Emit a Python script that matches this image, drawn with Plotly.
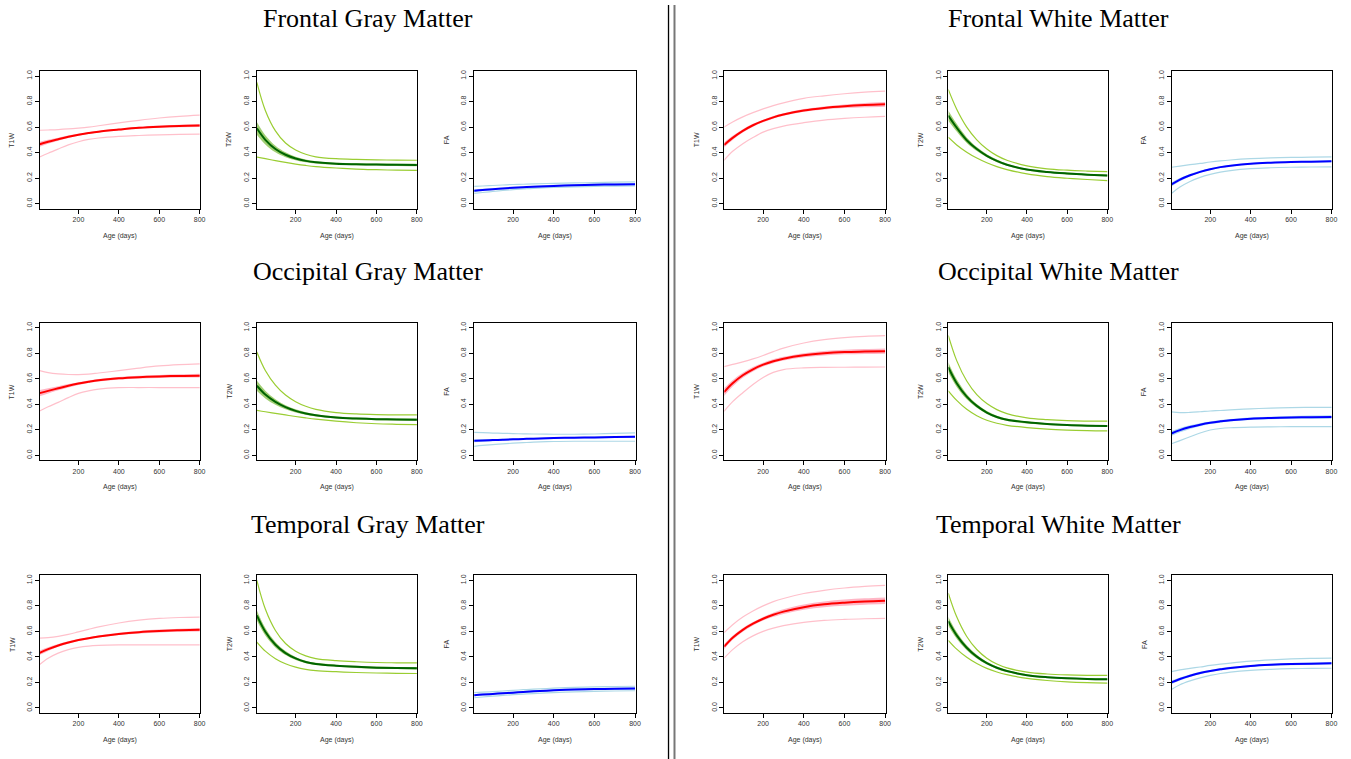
import plotly.graph_objects as go

# ---------------- data ----------------
ages = [8, 50, 100, 150, 200, 250, 300, 400, 500, 600, 700, 800]
x_ticks = [200, 400, 600, 800]
y_ticks = [0.0, 0.2, 0.4, 0.6, 0.8, 1.0]
y_tick_text = ["0.0", "0.2", "0.4", "0.6", "0.8", "1.0"]
measures = ["T1W", "T2W", "FA"]
x_label = "Age (days)"
regions_left = ["Frontal Gray Matter", "Occipital Gray Matter", "Temporal Gray Matter"]
regions_right = ["Frontal White Matter", "Occipital White Matter", "Temporal White Matter"]

# Frontal gray matter
fgm_t1w_mid = [0.465, 0.485, 0.505, 0.524, 0.54, 0.553, 0.564, 0.58, 0.594, 0.603, 0.609, 0.612]
fgm_t1w_hi = [0.575, 0.577, 0.58, 0.585, 0.592, 0.60, 0.61, 0.632, 0.653, 0.671, 0.684, 0.693]
fgm_t1w_lo = [0.365, 0.395, 0.428, 0.46, 0.485, 0.503, 0.514, 0.527, 0.534, 0.539, 0.542, 0.544]
fgm_t1w_ci = [0.02, 0.015, 0.012, 0.01, 0.008, 0.007, 0.007, 0.007, 0.008, 0.009, 0.01, 0.012]
fgm_t2w_mid = [0.59, 0.50, 0.428, 0.383, 0.354, 0.335, 0.324, 0.312, 0.308, 0.306, 0.304, 0.303]
fgm_t2w_hi = [0.95, 0.73, 0.57, 0.475, 0.42, 0.387, 0.367, 0.352, 0.346, 0.343, 0.341, 0.34]
fgm_t2w_lo = [0.365, 0.352, 0.337, 0.323, 0.31, 0.299, 0.29, 0.279, 0.271, 0.266, 0.262, 0.26]
fgm_t2w_ci = [0.05, 0.036, 0.026, 0.019, 0.014, 0.011, 0.009, 0.008, 0.008, 0.008, 0.009, 0.01]
fgm_fa_mid = [0.10, 0.107, 0.113, 0.119, 0.124, 0.128, 0.132, 0.139, 0.144, 0.148, 0.15, 0.152]
fgm_fa_hi = [0.135, 0.138, 0.142, 0.146, 0.15, 0.152, 0.155, 0.159, 0.162, 0.165, 0.168, 0.17]
fgm_fa_lo = [0.08, 0.087, 0.095, 0.103, 0.11, 0.115, 0.12, 0.127, 0.132, 0.135, 0.137, 0.138]
fgm_fa_ci = [0.01, 0.009, 0.008, 0.008, 0.008, 0.008, 0.008, 0.008, 0.008, 0.009, 0.009, 0.01]

# Frontal white matter
fwm_t1w_mid = [0.46, 0.515, 0.57, 0.614, 0.648, 0.676, 0.698, 0.73, 0.75, 0.763, 0.772, 0.778]
fwm_t1w_hi = [0.60, 0.64, 0.68, 0.713, 0.742, 0.768, 0.79, 0.825, 0.845, 0.861, 0.873, 0.881]
fwm_t1w_lo = [0.34, 0.41, 0.47, 0.518, 0.56, 0.588, 0.608, 0.634, 0.655, 0.668, 0.677, 0.683]
fwm_t1w_ci = [0.02, 0.016, 0.013, 0.011, 0.01, 0.01, 0.01, 0.011, 0.012, 0.014, 0.016, 0.018]
fwm_t2w_mid = [0.69, 0.595, 0.497, 0.428, 0.375, 0.335, 0.305, 0.267, 0.248, 0.236, 0.227, 0.22]
fwm_t2w_hi = [0.895, 0.74, 0.60, 0.50, 0.428, 0.376, 0.34, 0.296, 0.273, 0.262, 0.255, 0.25]
fwm_t2w_lo = [0.52, 0.46, 0.403, 0.357, 0.32, 0.29, 0.267, 0.233, 0.212, 0.199, 0.189, 0.181]
fwm_t2w_ci = [0.04, 0.03, 0.022, 0.016, 0.012, 0.01, 0.008, 0.007, 0.007, 0.007, 0.007, 0.008]
fwm_fa_mid = [0.15, 0.188, 0.222, 0.249, 0.27, 0.286, 0.297, 0.313, 0.321, 0.326, 0.329, 0.332]
fwm_fa_hi = [0.285, 0.294, 0.305, 0.315, 0.326, 0.335, 0.342, 0.352, 0.358, 0.362, 0.364, 0.366]
fwm_fa_lo = [0.08, 0.13, 0.174, 0.206, 0.229, 0.247, 0.259, 0.274, 0.281, 0.285, 0.287, 0.288]
fwm_fa_ci = [0.015, 0.012, 0.01, 0.008, 0.007, 0.006, 0.006, 0.006, 0.006, 0.006, 0.006, 0.007]

# Occipital gray matter
ogm_t1w_mid = [0.487, 0.505, 0.525, 0.545, 0.562, 0.576, 0.588, 0.603, 0.612, 0.618, 0.622, 0.624]
ogm_t1w_hi = [0.663, 0.648, 0.638, 0.633, 0.632, 0.636, 0.645, 0.663, 0.683, 0.70, 0.71, 0.716]
ogm_t1w_lo = [0.347, 0.38, 0.415, 0.452, 0.485, 0.505, 0.518, 0.53, 0.531, 0.531, 0.53, 0.53]
ogm_t1w_ci = [0.025, 0.02, 0.016, 0.013, 0.011, 0.01, 0.01, 0.01, 0.011, 0.012, 0.013, 0.015]
ogm_t2w_mid = [0.545, 0.476, 0.418, 0.377, 0.348, 0.328, 0.313, 0.296, 0.288, 0.283, 0.281, 0.279]
ogm_t2w_hi = [0.81, 0.665, 0.55, 0.472, 0.42, 0.384, 0.36, 0.335, 0.324, 0.319, 0.317, 0.316]
ogm_t2w_lo = [0.353, 0.341, 0.328, 0.316, 0.304, 0.293, 0.283, 0.267, 0.255, 0.247, 0.243, 0.24]
ogm_t2w_ci = [0.04, 0.03, 0.022, 0.016, 0.012, 0.01, 0.009, 0.008, 0.008, 0.008, 0.008, 0.009]
ogm_fa_mid = [0.113, 0.116, 0.119, 0.122, 0.125, 0.128, 0.13, 0.135, 0.138, 0.14, 0.143, 0.145]
ogm_fa_hi = [0.18, 0.177, 0.174, 0.172, 0.17, 0.168, 0.167, 0.165, 0.165, 0.167, 0.171, 0.175]
ogm_fa_lo = [0.07, 0.077, 0.084, 0.09, 0.095, 0.099, 0.103, 0.108, 0.11, 0.11, 0.11, 0.11]
ogm_fa_ci = [0.01, 0.009, 0.008, 0.007, 0.007, 0.007, 0.007, 0.007, 0.007, 0.008, 0.008, 0.009]

# Occipital white matter
owm_t1w_mid = [0.495, 0.564, 0.627, 0.674, 0.71, 0.737, 0.757, 0.784, 0.80, 0.809, 0.813, 0.816]
owm_t1w_hi = [0.695, 0.712, 0.732, 0.755, 0.782, 0.812, 0.84, 0.88, 0.906, 0.922, 0.932, 0.937]
owm_t1w_lo = [0.345, 0.42, 0.49, 0.555, 0.61, 0.65, 0.672, 0.685, 0.689, 0.69, 0.691, 0.692]
owm_t1w_ci = [0.03, 0.025, 0.02, 0.017, 0.015, 0.015, 0.015, 0.016, 0.017, 0.018, 0.019, 0.02]
owm_t2w_mid = [0.69, 0.565, 0.46, 0.387, 0.335, 0.30, 0.279, 0.258, 0.245, 0.237, 0.232, 0.229]
owm_t2w_hi = [0.94, 0.742, 0.582, 0.475, 0.405, 0.358, 0.327, 0.293, 0.279, 0.271, 0.268, 0.267]
owm_t2w_lo = [0.505, 0.43, 0.36, 0.31, 0.275, 0.251, 0.235, 0.217, 0.205, 0.198, 0.194, 0.192]
owm_t2w_ci = [0.04, 0.03, 0.021, 0.015, 0.012, 0.01, 0.009, 0.008, 0.007, 0.007, 0.007, 0.008]
owm_fa_mid = [0.171, 0.197, 0.221, 0.24, 0.255, 0.266, 0.275, 0.287, 0.293, 0.297, 0.299, 0.30]
owm_fa_hi = [0.34, 0.334, 0.336, 0.341, 0.347, 0.351, 0.356, 0.364, 0.37, 0.374, 0.375, 0.376]
owm_fa_lo = [0.09, 0.115, 0.145, 0.175, 0.198, 0.21, 0.216, 0.221, 0.223, 0.224, 0.224, 0.224]
owm_fa_ci = [0.02, 0.017, 0.014, 0.012, 0.01, 0.01, 0.01, 0.01, 0.01, 0.011, 0.012, 0.013]

# Temporal gray matter
tgm_t1w_mid = [0.432, 0.461, 0.49, 0.513, 0.532, 0.547, 0.56, 0.58, 0.594, 0.603, 0.609, 0.613]
tgm_t1w_hi = [0.547, 0.551, 0.561, 0.576, 0.596, 0.616, 0.635, 0.666, 0.688, 0.702, 0.709, 0.712]
tgm_t1w_lo = [0.34, 0.39, 0.43, 0.457, 0.475, 0.485, 0.49, 0.494, 0.495, 0.495, 0.495, 0.495]
tgm_t1w_ci = [0.018, 0.014, 0.011, 0.009, 0.008, 0.008, 0.008, 0.009, 0.01, 0.011, 0.012, 0.014]
tgm_t2w_mid = [0.725, 0.597, 0.495, 0.43, 0.388, 0.36, 0.345, 0.331, 0.322, 0.316, 0.313, 0.311]
tgm_t2w_hi = [1.0, 0.775, 0.607, 0.505, 0.445, 0.408, 0.387, 0.371, 0.362, 0.356, 0.354, 0.353]
tgm_t2w_lo = [0.516, 0.445, 0.386, 0.346, 0.32, 0.303, 0.293, 0.284, 0.278, 0.274, 0.271, 0.27]
tgm_t2w_ci = [0.04, 0.03, 0.022, 0.016, 0.012, 0.01, 0.009, 0.008, 0.008, 0.008, 0.008, 0.009]
tgm_fa_mid = [0.10, 0.105, 0.11, 0.115, 0.12, 0.125, 0.13, 0.138, 0.144, 0.148, 0.15, 0.152]
tgm_fa_hi = [0.12, 0.124, 0.128, 0.133, 0.138, 0.143, 0.147, 0.155, 0.161, 0.165, 0.168, 0.17]
tgm_fa_lo = [0.08, 0.086, 0.092, 0.098, 0.104, 0.109, 0.113, 0.12, 0.126, 0.13, 0.133, 0.135]
tgm_fa_ci = [0.008, 0.008, 0.008, 0.008, 0.008, 0.008, 0.008, 0.008, 0.008, 0.009, 0.009, 0.01]

# Temporal white matter
twm_t1w_mid = [0.48, 0.55, 0.612, 0.66, 0.699, 0.73, 0.755, 0.79, 0.812, 0.825, 0.834, 0.84]
twm_t1w_hi = [0.59, 0.652, 0.712, 0.76, 0.80, 0.833, 0.858, 0.897, 0.922, 0.94, 0.952, 0.96]
twm_t1w_lo = [0.39, 0.457, 0.519, 0.565, 0.60, 0.626, 0.645, 0.671, 0.686, 0.694, 0.699, 0.702]
twm_t1w_ci = [0.02, 0.016, 0.014, 0.013, 0.014, 0.016, 0.018, 0.02, 0.022, 0.024, 0.025, 0.026]
twm_t2w_mid = [0.68, 0.569, 0.472, 0.402, 0.351, 0.315, 0.289, 0.257, 0.241, 0.232, 0.227, 0.225]
twm_t2w_hi = [0.90, 0.714, 0.56, 0.458, 0.39, 0.344, 0.314, 0.281, 0.266, 0.259, 0.256, 0.255]
twm_t2w_lo = [0.53, 0.461, 0.397, 0.348, 0.31, 0.282, 0.261, 0.232, 0.215, 0.204, 0.198, 0.195]
twm_t2w_ci = [0.035, 0.026, 0.019, 0.014, 0.011, 0.009, 0.008, 0.007, 0.007, 0.007, 0.007, 0.008]
twm_fa_mid = [0.20, 0.227, 0.253, 0.274, 0.29, 0.303, 0.314, 0.329, 0.338, 0.344, 0.347, 0.35]
twm_fa_hi = [0.285, 0.298, 0.31, 0.321, 0.333, 0.343, 0.352, 0.367, 0.377, 0.384, 0.388, 0.39]
twm_fa_lo = [0.145, 0.182, 0.212, 0.236, 0.255, 0.27, 0.281, 0.295, 0.303, 0.308, 0.31, 0.311]
twm_fa_ci = [0.015, 0.012, 0.01, 0.009, 0.008, 0.008, 0.008, 0.008, 0.008, 0.009, 0.009, 0.01]

# panel table built from the named arrays: rows x 6 columns
panels = [
    [(fgm_t1w_mid, fgm_t1w_hi, fgm_t1w_lo, fgm_t1w_ci), (fgm_t2w_mid, fgm_t2w_hi, fgm_t2w_lo, fgm_t2w_ci),
     (fgm_fa_mid, fgm_fa_hi, fgm_fa_lo, fgm_fa_ci),
     (fwm_t1w_mid, fwm_t1w_hi, fwm_t1w_lo, fwm_t1w_ci), (fwm_t2w_mid, fwm_t2w_hi, fwm_t2w_lo, fwm_t2w_ci),
     (fwm_fa_mid, fwm_fa_hi, fwm_fa_lo, fwm_fa_ci)],
    [(ogm_t1w_mid, ogm_t1w_hi, ogm_t1w_lo, ogm_t1w_ci), (ogm_t2w_mid, ogm_t2w_hi, ogm_t2w_lo, ogm_t2w_ci),
     (ogm_fa_mid, ogm_fa_hi, ogm_fa_lo, ogm_fa_ci),
     (owm_t1w_mid, owm_t1w_hi, owm_t1w_lo, owm_t1w_ci), (owm_t2w_mid, owm_t2w_hi, owm_t2w_lo, owm_t2w_ci),
     (owm_fa_mid, owm_fa_hi, owm_fa_lo, owm_fa_ci)],
    [(tgm_t1w_mid, tgm_t1w_hi, tgm_t1w_lo, tgm_t1w_ci), (tgm_t2w_mid, tgm_t2w_hi, tgm_t2w_lo, tgm_t2w_ci),
     (tgm_fa_mid, tgm_fa_hi, tgm_fa_lo, tgm_fa_ci),
     (twm_t1w_mid, twm_t1w_hi, twm_t1w_lo, twm_t1w_ci), (twm_t2w_mid, twm_t2w_hi, twm_t2w_lo, twm_t2w_ci),
     (twm_fa_mid, twm_fa_hi, twm_fa_lo, twm_fa_ci)],
]

# ---------------- styling ----------------
W, H = 1351, 759
col_px = [(40, 201), (258, 419), (476, 638), (727, 889), (952, 1112), (1176, 1337)]
row_px = [(70, 208), (322, 460), (575, 713)]
title_x_px = [369, 1062]
title_y_px = [18, 271, 524]

styles = {
    "T1W": dict(mid="#ff0000", band="rgba(255,110,140,0.5)", outer="#ffc0cb"),
    "T2W": dict(mid="#006400", band="rgba(110,180,40,0.65)", outer="#9acd32"),
    "FA": dict(mid="#0000ff", band="rgba(120,190,235,0.6)", outer="#add8e6"),
}

font_sans = "Liberation Sans, Arial, sans-serif"
font_serif = "Liberation Serif, Times New Roman, serif"
tick_col = "#333333"


def px_x(p):
    return p / W


def px_y(p):
    return 1 - p / H


fig = go.Figure()
annotations = []
layout_axes = {}

for r in range(3):
    for c in range(6):
        idx = r * 6 + c + 1
        xa = "x" if idx == 1 else f"x{idx}"
        ya = "y" if idx == 1 else f"y{idx}"
        measure = measures[c % 3]
        st = styles[measure]
        mid, hi, lo, ci = panels[r][c]
        band_lo = [m - d for m, d in zip(mid, ci)]
        band_hi = [m + d for m, d in zip(mid, ci)]

        common = dict(x=ages, xaxis=xa, yaxis=ya, mode="lines", showlegend=False, hoverinfo="skip")
        fig.add_trace(go.Scatter(y=band_lo, line=dict(width=0, shape="spline", color=st["band"]), **common))
        fig.add_trace(go.Scatter(y=band_hi, fill="tonexty", fillcolor=st["band"],
                                 line=dict(width=0, shape="spline", color=st["band"]), **common))
        fig.add_trace(go.Scatter(y=hi, line=dict(width=1.2, shape="spline", color=st["outer"]), **common))
        fig.add_trace(go.Scatter(y=lo, line=dict(width=1.2, shape="spline", color=st["outer"]), **common))
        fig.add_trace(go.Scatter(y=mid, line=dict(width=2.0, shape="spline", color=st["mid"]), **common))

        L, R = col_px[c]
        T, B = row_px[r]
        xkey = "xaxis" if idx == 1 else f"xaxis{idx}"
        ykey = "yaxis" if idx == 1 else f"yaxis{idx}"
        layout_axes[xkey] = dict(
            domain=[px_x(L), px_x(R)], anchor=ya, range=[9, 803],
            tickmode="array", tickvals=x_ticks, ticktext=[str(v) for v in x_ticks],
            ticks="outside", ticklen=4, tickwidth=1, tickcolor="black",
            showline=True, mirror=True, linecolor="black", linewidth=1,
            showgrid=False, zeroline=False, fixedrange=True,
            tickfont=dict(family=font_sans, size=7, color=tick_col),
        )
        layout_axes[ykey] = dict(
            domain=[px_y(B), px_y(T)], anchor=xa, range=[-0.04, 1.04],
            tickmode="array", tickvals=y_ticks, ticktext=y_tick_text, tickangle=-90,
            ticks="outside", ticklen=4, tickwidth=1, tickcolor="black",
            showline=True, mirror=True, linecolor="black", linewidth=1,
            showgrid=False, zeroline=False, fixedrange=True,
            tickfont=dict(family=font_sans, size=7, color=tick_col),
        )
        # axis titles
        annotations.append(dict(text=measure, xref="paper", yref="paper",
                                x=px_x(L - 28), y=px_y((T + B) / 2), textangle=-90,
                                showarrow=False, xanchor="center", yanchor="middle",
                                font=dict(family=font_sans, size=7, color=tick_col)))
        annotations.append(dict(text=x_label, xref="paper", yref="paper",
                                x=px_x((L + R) / 2), y=px_y(B + 27),
                                showarrow=False, xanchor="center", yanchor="middle",
                                font=dict(family=font_sans, size=7, color=tick_col)))

for r in range(3):
    for side, names in enumerate([regions_left, regions_right]):
        annotations.append(dict(text=names[r], xref="paper", yref="paper",
                                x=px_x(title_x_px[side]), y=px_y(title_y_px[r]),
                                showarrow=False, xanchor="center", yanchor="middle",
                                font=dict(family=font_serif, size=26, color="black")))

shapes = [
    dict(type="line", xref="paper", yref="paper", x0=px_x(671), x1=px_x(671),
         y0=px_y(4), y1=0, line=dict(color="black", width=1.3)),
    dict(type="line", xref="paper", yref="paper", x0=px_x(677), x1=px_x(677),
         y0=px_y(4), y1=0, line=dict(color="#777777", width=2)),
]

fig.update_layout(
    width=W, height=H, margin=dict(l=0, r=0, t=0, b=0),
    paper_bgcolor="white", plot_bgcolor="white",
    annotations=annotations, shapes=shapes, showlegend=False,
    **layout_axes,
)

fig.write_html("out.html", config={"displayModeBar": False},
               post_script="document.body.style.margin='0';document.body.style.overflow='hidden';")
